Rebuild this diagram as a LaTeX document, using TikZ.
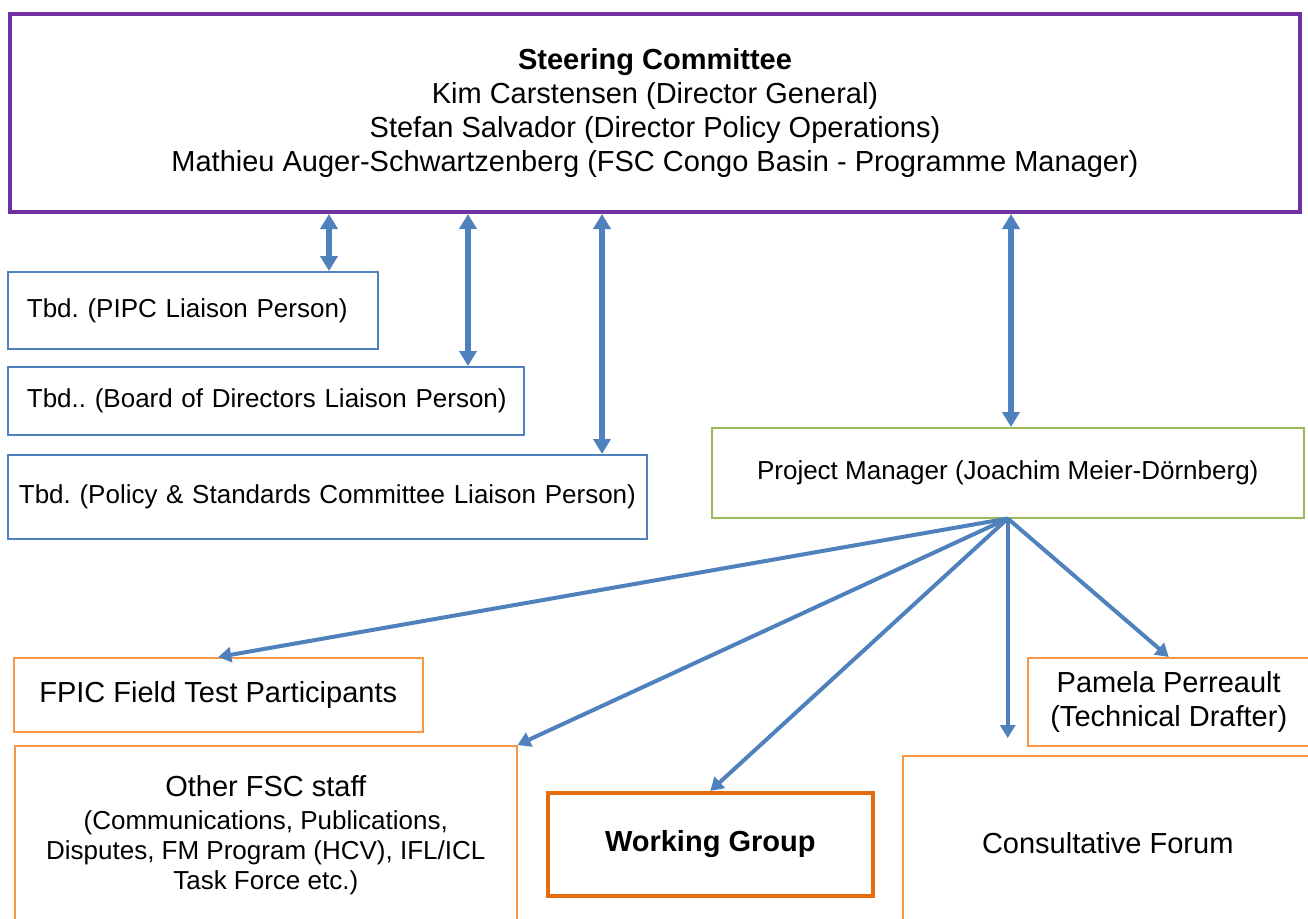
\documentclass[tikz,border=0pt]{standalone}
\usepackage{fontspec}
\setmainfont{Liberation Sans}
\frenchspacing
\usetikzlibrary{arrows.meta,calc}

\definecolor{fscpurple}{HTML}{7030A0}
\definecolor{fscblue}{HTML}{4F81BD}
\definecolor{fscgreen}{HTML}{9BBB59}
\definecolor{fscorange}{HTML}{F79646}
\definecolor{fscdkorange}{HTML}{E46C0A}

\begin{document}
\begin{tikzpicture}[x=1pt,y=-1pt,
  box/.style={draw,rectangle,anchor=north west,inner sep=0pt},
  tbd/.style={box,draw=fscblue,line width=1.8pt,align=left,inner xsep=19pt,font=\fontsize{26}{30}\selectfont},
  org/.style={box,draw=fscorange,line width=1.5pt,align=center,font=\fontsize{29}{34}\selectfont},
  big/.style={draw=fscblue,line width=6pt,{Triangle[width=17pt,length=15pt]}-{Triangle[width=17pt,length=15pt]}},
  fan/.style={draw=fscblue,line width=4pt,-{Triangle[width=15pt,length=13pt]}}]
\useasboundingbox (0,0) rectangle (1308,918);
\clip (0,0) rectangle (1308,918);

\node[box,draw=fscpurple,line width=4pt,minimum width=1290pt,minimum height=198pt,align=center,font=\fontsize{29}{34}\selectfont] (steer) at (8,12)
  {\textbf{Steering Committee}\\Kim Carstensen (Director General)\\Stefan Salvador (Director Policy Operations)\\Mathieu Auger-Schwartzenberg (FSC Congo Basin - Programme Manager)};

\node[tbd,text width=332pt,minimum height=77pt] (pipc) at (7,271) {\mbox{Tbd. (PIPC Liaison Person)}};
\node[tbd,text width=478pt,minimum height=68pt] (board) at (7,366) {\mbox{Tbd.. (Board of Directors Liaison Person)}};
\node[tbd,inner xsep=11pt,text width=617pt,minimum height=84pt] (pol) at (7,454) {\mbox{Tbd. (Policy \& Standards Committee Liaison Person)}};

\node[box,draw=fscgreen,line width=1.5pt,minimum width=592pt,minimum height=90pt,font=\fontsize{26}{30}\selectfont] (pm) at (711,427) {Project Manager (Joachim Meier-Dörnberg)};

\node[org,minimum width=409pt,minimum height=74pt] (fpic) at (13,657) {FPIC Field Test Participants};
\node[org,minimum width=502pt,minimum height=178pt,font=\fontsize{26}{30}\selectfont] (staff) at (14,745)
  {{\fontsize{29}{34}\selectfont Other FSC staff}\\[3pt](Communications, Publications,\\Disputes, FM Program (HCV), IFL/ICL\\Task Force etc.)};
\node[box,draw=fscdkorange,line width=3.5pt,minimum width=325pt,minimum height=103pt,font=\fontsize{29}{34}\selectfont\bfseries] (wg) at (546,791) {Working Group};
\node[org,minimum width=410pt,minimum height=174pt] (forum) at (902,755) {Consultative Forum};
\node[org,minimum width=282pt,minimum height=88pt] (pam) at (1027,657) {Pamela Perreault\\(Technical Drafter)};

\coordinate (c1) at (329,0);
\coordinate (c2) at (468,0);
\coordinate (c3) at (602,0);
\coordinate (c4) at (1011,0);
\coordinate (fe) at ($(forum.north -| pm.south)+(0,-17)$);

\draw[big] (steer.south -| c1) -- (pipc.north -| c1);
\draw[big] (steer.south -| c2) -- (board.north -| c2);
\draw[big] (steer.south -| c3) -- (pol.north -| c3);
\draw[big] (steer.south -| c4) -- (pm.north -| c4);

\draw[fan] (pm.south) -- (fpic.north);
\draw[fan] (pm.south) -- (staff.north east);
\draw[fan] (pm.south) -- (wg.north);
\draw[fan] (pm.south) -- (fe);
\draw[fan] (pm.south) -- (pam.north);
\end{tikzpicture}
\end{document}
